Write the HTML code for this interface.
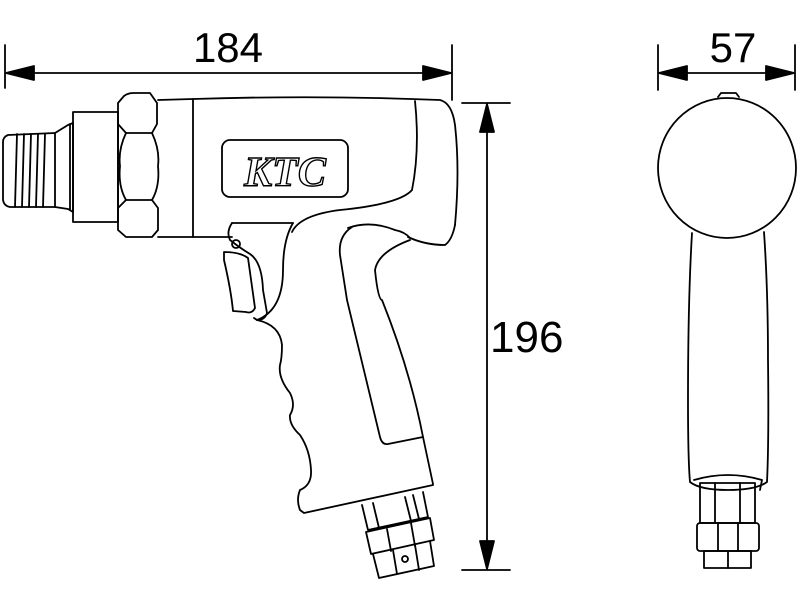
<!DOCTYPE html>
<html><head><meta charset="utf-8"><style>html,body{margin:0;padding:0;background:#fff}svg{display:block}</style></head>
<body>
<svg width="800" height="600" viewBox="0 0 800 600" xmlns="http://www.w3.org/2000/svg">
<g fill="none" stroke="#000" stroke-width="1.8" stroke-linejoin="round" stroke-linecap="round">
<!-- dimension 184 -->
<line x1="5" y1="45" x2="5" y2="88"/><line x1="452" y1="45" x2="452" y2="100"/>
<line x1="6" y1="73" x2="451" y2="73"/>
<path d="M6 73 L34 66 L34 80 Z" fill="#000"/><path d="M451 73 L423 66 L423 80 Z" fill="#000"/>
<!-- dimension 196 -->
<line x1="462" y1="103" x2="510" y2="103"/><line x1="462" y1="570" x2="510" y2="570"/>
<line x1="487" y1="104" x2="487" y2="569"/>
<path d="M487 104 L480 132 L494 132 Z" fill="#000"/><path d="M487 569 L480 541 L494 541 Z" fill="#000"/>
<!-- dimension 57 -->
<line x1="658" y1="45" x2="658" y2="90"/><line x1="795" y1="45" x2="795" y2="90"/>
<line x1="659" y1="73" x2="794" y2="73"/>
<path d="M659 73 L687 66 L687 80 Z" fill="#000"/><path d="M794 73 L766 66 L766 80 Z" fill="#000"/>

<!-- thread -->
<path d="M55 133 L8 135 Q3 137 3 142 L3 200 Q4 206 10 207 L55 207 Z"/>
<line x1="17" y1="134" x2="15" y2="207"/><line x1="24" y1="134" x2="22" y2="207"/>
<line x1="31" y1="134" x2="29" y2="207"/><line x1="38" y1="134" x2="36" y2="207"/>
<line x1="45" y1="134" x2="43" y2="207"/>
<path d="M55 133 L68 125 L73 123 L73 212 L68 209 L55 207"/>
<line x1="70" y1="124" x2="70" y2="210"/>
<!-- collar -->
<rect x="73" y="112" width="45" height="110"/>
<!-- hex nut -->
<path d="M118 103 L124 96 Q128 93 133 93 L150 93 L157 103 L157 124 L152 133 L126 133 L118 124 Z"/>
<path d="M126 133 Q118 150 120 166 Q118 186 126 200 L152 200 Q160 186 158 166 Q160 150 152 133"/>
<path d="M126 200 L118 208 L118 230 L126 237 L152 237 L158 230 L158 208 L152 200"/>
<line x1="118" y1="124" x2="118" y2="208"/>
<!-- band + body -->
<path d="M158 100 L193 99 Q320 95 440 100 Q452 103 455 125 Q460 170 455 225"/>
<line x1="193" y1="99" x2="193" y2="237"/>
<line x1="158" y1="237" x2="232" y2="237"/>
<path d="M415 101 Q420 150 412 190 Q400 204 340 210 Q300 215 292 232"/>
<path d="M232 223 L293 223"/>
<rect x="222" y="140" width="126" height="57" rx="8"/>
<!-- grip top and rubber -->
<path d="M348 228 Q370 220 395 230 Q405 232 410 238"/>
<path d="M455 225 Q452 240 445 245 Q425 245 408 237"/>
<path d="M352 227 Q338 236 340 255 L347 300 L380 437 Q382 445 388 444 L423 437"/>
<path d="M410 240 Q378 252 375 270 Q378 300 382 300 Q410 370 423 437 L433 484"/>
<!-- trigger -->
<path d="M232 223 Q226 232 230 240 Q240 248 250 254 Q262 262 263 290 L267 313 Q265 320 257 320 L254 318"/>
<circle cx="236" cy="244" r="4"/>
<path d="M224 252 Q240 252 248 258 L255 308 Q252 314 246 312 L233 311 Q231 290 224 260 Z"/>
<!-- handle front -->
<path d="M257 320 Q280 325 282 345 Q282 358 280 365 Q278 378 290 393 Q296 405 290 415 Q289 425 300 435 Q310 450 311 470 Q312 485 300 490 Q296 500 300 510 L304 513 L433 485"/>
<path d="M293 223 Q283 240 283 270 Q283 310 257 320"/>
<!-- bottom fitting left -->
<path d="M362 505 L368 530 L428 517 L423 492"/>
<line x1="373" y1="503" x2="379" y2="528"/><line x1="405" y1="497" x2="411" y2="521"/><line x1="413" y1="495" x2="419" y2="519"/>
<path d="M366 532 L430 518 L434 540 L371 554 Z"/>
<line x1="387" y1="529" x2="391" y2="551"/><line x1="411" y1="523" x2="415" y2="546"/>
<path d="M373 554 L379 578 L434 566 L430 541"/>
<line x1="393" y1="550" x2="397" y2="574"/><line x1="415" y1="545" x2="419" y2="570"/>
<circle cx="405" cy="559" r="3"/>

<!-- right view -->
<ellipse cx="727" cy="168" rx="69" ry="70"/>
<path d="M718 97 L721 93 L736 93 L739 97"/>
<path d="M692 233 Q688 300 688 400 Q688 460 690 482 Q700 490 728 490 Q756 490 767 482 Q769 440 768 360 Q768 290 764 232"/>
<path d="M694 480 Q728 470 762 480 L760 490"/>
<rect x="700" y="483" width="55" height="40"/>
<line x1="715" y1="483" x2="715" y2="523"/><line x1="740" y1="483" x2="740" y2="523"/>
<rect x="697" y="523" width="62" height="28" rx="3"/>
<line x1="718" y1="523" x2="718" y2="551"/><line x1="738" y1="523" x2="738" y2="551"/>
<rect x="704" y="551" width="47" height="17"/>
<line x1="728" y1="551" x2="728" y2="568"/>
</g>
<g font-family="Liberation Sans, sans-serif" fill="#000">
<text x="228" y="62" font-size="42" text-anchor="middle">184</text>
<text x="490" y="352" font-size="44">196</text>
<text x="733" y="62" font-size="42" text-anchor="middle">57</text>
<text x="285" y="186" font-size="42" font-family="Liberation Serif, serif" font-style="italic" font-weight="bold" text-anchor="middle" fill="#fff" stroke="#000" stroke-width="1.4">KTC</text>
</g>
</svg>
</body></html>
